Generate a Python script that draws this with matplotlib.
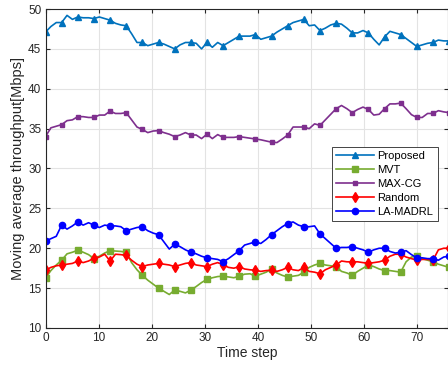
import numpy as np
import matplotlib
matplotlib.use("Agg")
import matplotlib.pyplot as plt

plt.rcParams['font.family'] = ['Liberation Sans', 'DejaVu Sans']

step_spacing = 1.0135  # horizontal spacing of samples on the time-step axis

proposed = [47.1, 47.8, 48.3, 48.3, 49.2, 48.7, 49.0, 48.9, 48.9, 48.8,
            49.0, 48.8, 48.6, 48.2, 48.0, 47.9, 46.9, 45.8, 45.8, 45.4,
            45.6, 45.8, 45.6, 45.3, 45.0, 45.5, 45.8, 45.8, 45.7, 45.0,
            45.8, 45.2, 45.8, 45.4, 45.8, 46.2, 46.6, 46.6, 46.6, 46.8,
            46.2, 46.4, 46.6, 47.1, 47.5, 47.9, 48.3, 48.5, 48.7, 47.9,
            48.0, 47.3, 47.6, 48.0, 48.2, 48.1, 47.6, 47.0, 47.0, 47.3,
            47.0, 46.2, 45.5, 46.5, 47.2, 47.0, 46.8, 46.3, 45.8, 45.3,
            45.5, 45.7, 45.8, 46.1, 46.0, 46.0]

mvt = [16.25, 17.2, 17.9, 18.5, 19.3, 19.5, 19.75, 19.5, 19.2, 18.7,
       19.0, 19.4, 19.7, 19.65, 19.6, 19.5, 18.2, 17.3, 16.6, 16.0,
       15.5, 15.0, 14.6, 14.2, 14.75, 14.6, 14.4, 14.75, 15.2, 15.7,
       16.1, 16.3, 16.45, 16.5, 16.4, 16.3, 16.5, 16.75, 16.8, 16.5,
       16.75, 17.0, 17.4, 16.9, 16.6, 16.4, 16.5, 16.6, 17.0, 17.6,
       17.9, 18.1, 17.9, 17.8, 17.7, 17.1, 16.9, 16.6, 17.1, 17.5,
       17.9, 17.7, 17.4, 17.2, 17.2, 17.1, 17.0, 18.3, 18.9, 19.0,
       18.7, 18.5, 18.3, 18.0, 17.8, 17.6]

max_cg = [34.0, 35.1, 35.3, 35.5, 36.0, 36.1, 36.5, 36.5, 36.4, 36.4,
          36.7, 36.7, 37.2, 36.9, 36.9, 37.0, 36.1, 35.2, 34.9, 34.5,
          34.7, 34.75, 34.5, 34.3, 34.0, 34.2, 34.5, 34.2, 34.2, 33.75,
          34.3, 33.75, 34.25, 33.9, 33.9, 33.9, 34.0, 33.9, 33.8, 33.7,
          33.6, 33.45, 33.3, 33.25, 33.7, 34.2, 35.2, 35.2, 35.2, 35.0,
          35.6, 35.4, 36.1, 36.8, 37.5, 37.9, 37.5, 37.0, 37.4, 37.7,
          37.4, 36.7, 36.8, 37.5, 38.1, 38.1, 38.2, 37.5, 36.75, 36.4,
          36.4, 36.9, 36.9, 37.25, 37.1, 37.0]

random_ = [17.25, 17.6, 17.8, 17.9, 18.0, 18.1, 18.4, 18.2, 18.4, 18.75,
           18.9, 19.25, 18.4, 19.25, 19.2, 19.1, 18.5, 18.0, 17.7, 17.9,
           18.0, 18.1, 18.0, 17.9, 17.7, 17.9, 18.1, 18.2, 17.9, 17.8,
           17.7, 18.0, 18.2, 17.9, 17.6, 17.5, 17.7, 17.4, 17.3, 17.25,
           17.1, 17.2, 17.25, 17.1, 17.3, 17.6, 17.3, 17.2, 17.6, 17.1,
           17.0, 16.8, 17.3, 17.6, 17.9, 18.4, 18.3, 18.3, 18.3, 18.2,
           18.1, 18.2, 18.3, 18.5, 19.0, 19.25, 19.25, 18.9, 18.7, 18.5,
           18.6, 18.6, 18.5, 19.8, 20.0, 20.0]

la_madrl = [20.9, 21.2, 21.5, 22.9, 22.4, 22.8, 23.3, 22.9, 23.2, 22.9,
            22.6, 22.9, 22.8, 22.8, 22.7, 22.2, 22.4, 22.6, 22.7, 22.2,
            21.9, 21.7, 20.8, 19.9, 20.5, 20.2, 19.8, 19.5, 19.3, 19.0,
            18.8, 18.7, 18.6, 18.3, 18.7, 19.2, 19.7, 20.4, 20.6, 20.8,
            20.6, 21.1, 21.7, 22.2, 22.7, 23.1, 23.3, 22.9, 22.7, 22.7,
            22.8, 21.8, 21.2, 20.6, 20.0, 20.1, 20.1, 20.2, 20.0, 19.8,
            19.5, 19.8, 20.0, 20.0, 19.6, 19.4, 19.5, 19.7, 19.2, 18.8,
            18.8, 18.7, 18.7, 18.5, 18.9, 19.0]

labels = ['Proposed', 'MVT', 'MAX-CG', 'Random', 'LA-MADRL']
x_ticks = [0, 10, 20, 30, 40, 50, 60, 70]
y_ticks = [10, 15, 20, 25, 30, 35, 40, 45, 50]

x = np.arange(len(proposed)) * step_spacing

fig = plt.figure(figsize=(4.48, 3.68), dpi=100)
ax = fig.add_axes([45.5/448, 1-328/368, 1-45.5/448, (328-9)/368])

styles = [
    dict(color='#0072BD', marker='^', ms=5),
    dict(color='#77AC30', marker='s', ms=4),
    dict(color='#7E2F8E', marker='s', ms=2.2),
    dict(color='#FF0000', marker='d', ms=5),
    dict(color='#0000FF', marker='o', ms=4.5),
]
series = [proposed, mvt, max_cg, random_, la_madrl]
for s, lab, st in zip(series, labels, styles):
    ax.plot(x, s, label=lab, lw=1.2, markevery=3, **st)

ax.set_xlim(0, 75.8)
ax.set_ylim(10, 50)
ax.set_xticks(x_ticks)
ax.set_yticks(y_ticks)
ax.grid(True, color='#e3e3e3', lw=0.8)
ax.set_axisbelow(True)
ax.tick_params(direction='in', top=True, right=True, labelsize=8.5, length=3,
               color='#262626', labelcolor='#262626', pad=3)
for sp in ax.spines.values():
    sp.set_color('#262626')
    sp.set_linewidth(0.8)

ax.set_xlabel('Time step', fontsize=10, color='#262626', labelpad=1)
ax.set_ylabel('Moving average throughput[Mbps]', fontsize=10.5, color='#262626', labelpad=2)

leg = ax.legend(loc='upper left', bbox_to_anchor=((331.7-45.5)/402.5, (328-146.7)/319),
                fontsize=8, frameon=True, fancybox=False, framealpha=1,
                edgecolor='#262626', handlelength=3.4, borderpad=0.4,
                labelspacing=0.35, handletextpad=0.3, borderaxespad=0)
leg.get_frame().set_linewidth(0.6)

fig.savefig('out.png', dpi=100)
